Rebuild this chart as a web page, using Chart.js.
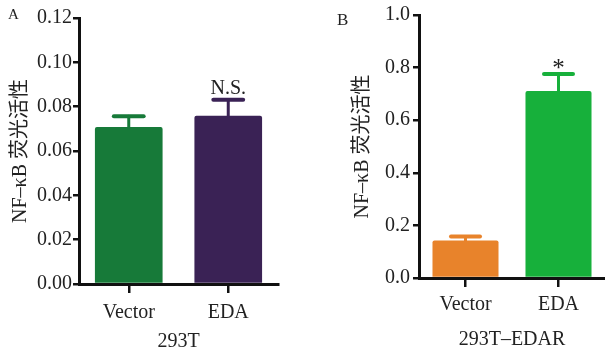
<!DOCTYPE html>
<html>
<head>
<meta charset="utf-8">
<script src="https://cdn.jsdelivr.net/npm/chart.js@4"></script>
<style>
  html, body { margin: 0; padding: 0; background: #fff; }
  #wrap { position: relative; width: 605px; height: 350px; overflow: hidden; }
  canvas { position: absolute; top: 0; }
  #panelA { left: 0; }
  #panelB { left: 300px; }
  .letter { position: absolute; font-family: 'Liberation Serif', serif; color: #222; line-height: 1; }
</style>
</head>
<body>
<div id="wrap">
  <canvas id="panelA" width="300" height="350"></canvas>
  <canvas id="panelB" width="305" height="350"></canvas>
  <div class="letter" style="left:8px;top:7px;font-size:15px;">A</div>
  <div class="letter" style="left:337px;top:11px;font-size:17px;">B</div>
</div>
<script>
// NF-kB luciferase activity, two cell lines

const categories = ['Vector', 'EDA'];
const yTitle = 'NF–κB 荧光活性';

const activityA = [0.0708, 0.0759];
const errorA = [0.0049, 0.0072];
const marksA = ['', 'N.S.'];
const colorsA = ['#177a39', '#3a2255'];
const ticksA = { max: 0.12, step: 0.02, digits: 2 };
const cellLineA = '293T';

const activityB = [0.143, 0.711];
const errorB = [0.015, 0.065];
const marksB = ['', '*'];
const colorsB = ['#e8832b', '#17b03b'];
const ticksB = { max: 1.0, step: 0.2, digits: 1 };
const cellLineB = '293T–EDAR';

const fontFamily = "'Liberation Serif', 'Noto Sans CJK SC', serif";
Chart.defaults.font.family = fontFamily;
Chart.defaults.color = '#222';

const errorBarPlugin = {
  id: 'errorBars',
  afterDatasetsDraw(chart, args, opts) {
    const { ctx } = chart;
    const yScale = chart.scales.y;
    const ds = chart.data.datasets[0];
    chart.getDatasetMeta(0).data.forEach((bar, i) => {
      const top = yScale.getPixelForValue(ds.data[i] + opts.errors[i]);
      const half = bar.width / 4 - 2;
      ctx.save();
      ctx.strokeStyle = ds.backgroundColor[i];
      ctx.lineCap = 'round';
      ctx.lineWidth = 3;
      ctx.beginPath();
      ctx.moveTo(bar.x, bar.y);
      ctx.lineTo(bar.x, top);
      ctx.stroke();
      ctx.lineWidth = 4;
      ctx.beginPath();
      ctx.moveTo(bar.x - half, top);
      ctx.lineTo(bar.x + half, top);
      ctx.stroke();
      if (opts.marks[i]) {
        ctx.fillStyle = '#222';
        ctx.font = `${opts.markSize}px ${fontFamily}`;
        ctx.textAlign = 'center';
        ctx.textBaseline = 'alphabetic';
        ctx.fillText(opts.marks[i], bar.x, top - opts.markGap);
      }
      ctx.restore();
    });
  }
};

function renderPanel(canvasId, values, errors, colors, marks, ticks, cellLine, cfg) {
  const ctx = document.getElementById(canvasId);
  return new Chart(ctx, {
    type: 'bar',
    data: {
      labels: categories,
      datasets: [{
        data: values,
        backgroundColor: colors,
        borderRadius: 2,
        borderSkipped: 'bottom',
        barPercentage: cfg.barPct,
        categoryPercentage: 1
      }]
    },
    plugins: [errorBarPlugin],
    options: {
      responsive: false,
      animation: false,
      layout: { padding: { top: cfg.top, right: cfg.right, left: 0, bottom: 0 } },
      plugins: {
        legend: { display: false },
        tooltip: { enabled: false },
        errorBars: { errors, marks, markSize: cfg.markSize, markGap: cfg.markGap }
      },
      scales: {
        x: {
          afterFit: (scale) => { scale.height = cfg.xHeight; },
          grid: {
            offset: false,
            drawOnChartArea: false,
            tickLength: 9,
            color: '#111',
            lineWidth: 2.5
          },
          border: { display: true, color: '#111', width: 3 },
          ticks: { font: { size: 20 }, padding: cfg.xPad, color: '#222' },
          title: {
            display: true,
            text: cellLine,
            font: { size: 20, lineHeight: cfg.titleLh },
            padding: { top: 0, bottom: 0 },
            color: '#222'
          }
        },
        y: {
          min: 0,
          max: ticks.max,
          afterFit: (scale) => { scale.width = cfg.yWidth; },
          grid: {
            drawOnChartArea: false,
            tickLength: 6,
            color: '#111',
            lineWidth: 2.5
          },
          border: { display: true, color: '#111', width: 3 },
          ticks: {
            stepSize: ticks.step,
            font: { size: 20 },
            padding: cfg.yPad,
            color: '#222',
            callback: (v) => Number(v).toFixed(ticks.digits)
          },
          title: {
            display: true,
            text: yTitle,
            font: { size: 20, lineHeight: 1 },
            padding: { top: cfg.titleLeft, bottom: 0 },
            color: '#222'
          }
        }
      }
    }
  });
}

renderPanel('panelA', activityA, errorA, colorsA, marksA, ticksA, cellLineA, {
  top: 18, right: 22, yWidth: 79, xHeight: 66, barPct: 0.68,
  xPad: 8, yPad: 1, titleLh: 0.8, titleLeft: 11, markSize: 20, markGap: 6
});

renderPanel('panelB', activityB, errorB, colorsB, marksB, ticksB, cellLineB, {
  top: 13, right: 0, yWidth: 119, xHeight: 72, barPct: 0.71,
  xPad: 6, yPad: 3, titleLh: 1, titleLeft: 53, markSize: 25, markGap: -2
});
</script>
</body>
</html>
